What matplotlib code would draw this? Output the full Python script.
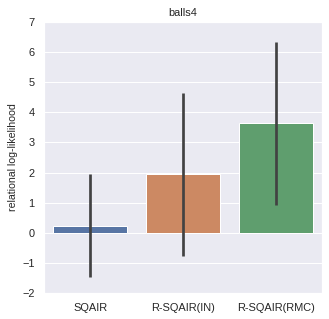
import matplotlib
matplotlib.use("Agg")
import matplotlib.pyplot as plt
import seaborn as sns

categories = ["SQAIR", "R-SQAIR(IN)", "R-SQAIR(RMC)"]
means = [0.21, 1.95, 3.63]
err_low = [-1.48, -0.77, 0.93]
err_high = [1.95, 4.63, 6.32]
colors = ["#5875A4", "#CC8963", "#5F9E6E"]

sns.set_theme(style="darkgrid")
plt.rcParams['font.family'] = ['Liberation Sans', 'DejaVu Sans']

fig = plt.figure(figsize=(329/72, 319/72), dpi=72)
ax = fig.add_axes([0.134, 0.0815, 0.845, 0.8495])
x = list(range(len(categories)))
ax.bar(x, means, width=0.8, color=colors, edgecolor="white", linewidth=1)
ax.vlines(x, err_low, err_high, color="#424242", linewidth=2.7, zorder=3)
ax.set_xlim(-0.5, 2.5)
ax.set_ylim(-2, 7)
ax.grid(False, axis='x')
ax.set_xticks(x)
ax.set_xticklabels(categories, fontsize=11)
ax.tick_params(axis='y', labelsize=11)
ax.set_yticks(range(-2, 8))
ax.set_ylabel("relational log-likelihood", fontsize=10.5)
ax.set_title("balls4", fontsize=11)
fig.savefig("out.png", dpi=72)
